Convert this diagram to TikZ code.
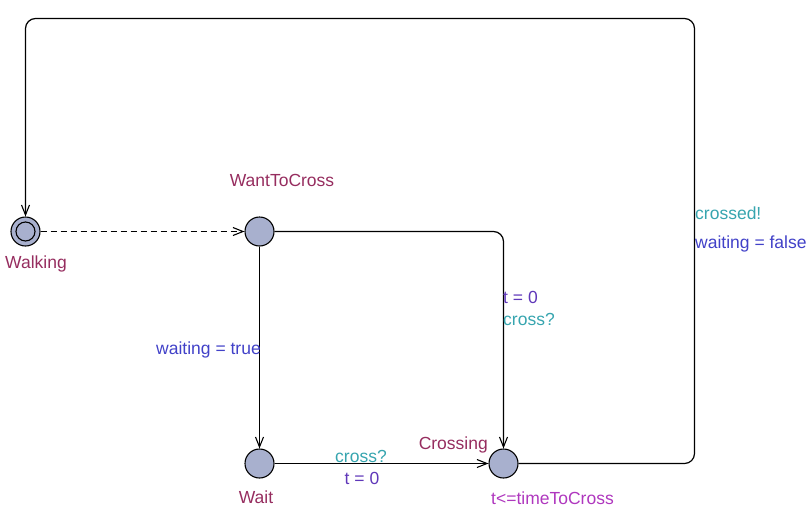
\documentclass[tikz,border=0pt]{standalone}
\usepackage{fontspec}
\setmainfont{Liberation Sans}
\usetikzlibrary{arrows.meta}
\definecolor{locfill}{RGB}{168,176,206}
\definecolor{namecol}{RGB}{150,45,95}
\definecolor{invcol}{RGB}{175,55,190}
\definecolor{synccol}{RGB}{55,165,175}
\definecolor{updcol}{RGB}{65,65,200}
\definecolor{upd2col}{RGB}{95,55,185}
\begin{document}
\begin{tikzpicture}[x=1pt,y=-1pt,
  loc/.style={circle,draw=black,line width=1.1pt,fill=locfill,minimum size=29pt,inner sep=0pt},
  inner/.style={circle,draw=black,line width=1.1pt,minimum size=19pt,inner sep=0pt},
  edge/.style={draw=black,line width=1.2pt,-{Straight Barb[length=10pt,width=8pt,line width=1.1pt]}},
  lbl/.style={inner sep=0pt,font=\fontsize{17.5}{20}\selectfont},
  nm/.style={lbl,text=namecol},
  inv/.style={lbl,text=invcol},
  syn/.style={lbl,text=synccol},
  upd/.style={lbl,text=updcol},
  upd2/.style={lbl,text=upd2col}]
\useasboundingbox (0,0) rectangle (810,512);
\node[loc] (walk) at (25.5,231.5) {};
\node[inner] (walkin) at (walk) {};
\node[loc] (want) at (259.5,231.5) {};
\node[loc] (wait) at (259.5,463.5) {};
\node[loc] (cross) at (503.5,463.5) {};
\coordinate (tr) at (694.5,18.5);
% location names
\node[nm] (nwalk) at (36,264) {Walking};
\node[nm] (nwant) at (282,180) {WantToCross};
\node[nm] (nwait) at (256,497) {Wait};
\node[nm,anchor=east] (ncross) at (488,445) {Crossing};
\node[inv,anchor=west] (icross) at (491,498) {t<=timeToCross};
% edges
\draw[edge,dash pattern=on 6pt off 4pt] (walk) -- (want);
\draw[edge,rounded corners=10pt] (want.east) -| (cross.north);
\draw[edge] (want) -- (wait);
\draw[edge] (wait) -- (cross);
\draw[edge,rounded corners=10pt] (cross.east) -| (tr) -| (walk.north);
% edge labels
\node[upd2,anchor=west] (l1) at (503,297) {t = 0};
\node[syn,anchor=west] (l2) at (503,319) {cross?};
\node[upd,anchor=east] (l3) at (261,350) {waiting = true};
\node[syn] (l4) at (361,456) {cross?};
\node[upd2] (l5) at (362,478) {t = 0};
\node[syn,anchor=west] (l6) at (695,213) {crossed!};
\node[upd,anchor=west] (l7) at (695,244) {waiting = false};
\end{tikzpicture}
\end{document}
